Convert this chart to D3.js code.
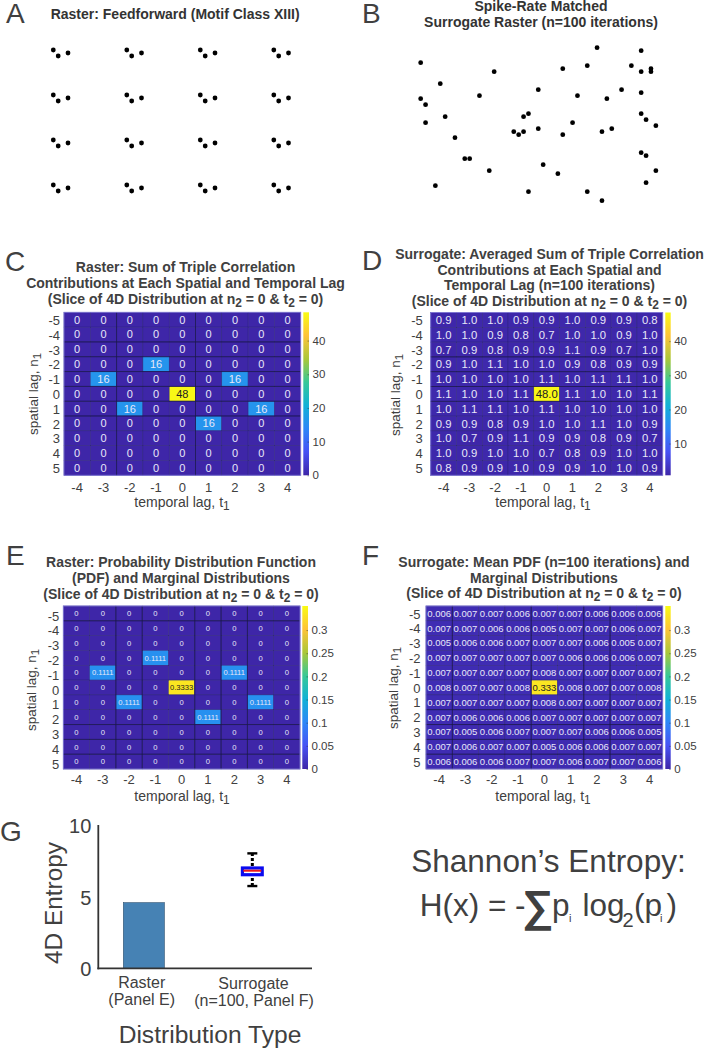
<!DOCTYPE html>
<html lang="en">
<head>
    <meta charset="UTF-8">
    <title>Triple correlation of a feedforward raster and its surrogate</title>
    <script src="https://d3js.org/d3.v7.min.js"></script>
    <style>
        body { margin: 0; background: #fff; }
        text { font-family: "Liberation Sans", Arial, sans-serif; fill: #404040; }
    </style>
</head>
<body>
    <svg width="704" height="1050" id="chart"></svg>
    <script>
        // Lags shared by all four heatmaps
        const temporalLags = [-4, -3, -2, -1, 0, 1, 2, 3, 4];
        const spatialLags = [-5, -4, -3, -2, -1, 0, 1, 2, 3, 4, 5];

        // Raster spikes, [time bin, neuron]
        const rasterSpikes = [
            [0, 0], [1, 2], [3, 1], [15, 0], [16, 2], [18, 1], [30, 0], [31, 2], [33, 1], [45, 0], [46, 2], [48, 1],
            [0, 15], [1, 17], [3, 16], [15, 15], [16, 17], [18, 16], [30, 15], [31, 17], [33, 16], [45, 15], [46, 17], [48, 16],
            [0, 30], [1, 32], [3, 31], [15, 30], [16, 32], [18, 31], [30, 30], [31, 32], [33, 31], [45, 30], [46, 32], [48, 31],
            [0, 45], [1, 47], [3, 46], [15, 45], [16, 47], [18, 46], [30, 45], [31, 47], [33, 46], [45, 45], [46, 47], [48, 46]
        ];
        const surrogateSpikes = [
            [36, 0], [45, 1], [0, 5], [34, 6], [43, 6], [29, 7], [47, 7], [15, 8], [45, 8], [47, 8],
            [4, 12], [24, 14], [41, 14], [45, 15], [12, 16], [32, 16], [0, 17], [38, 17], [1, 19],
            [22, 22], [45, 22], [5, 23], [21, 23], [46, 24], [1, 25], [31, 25], [48, 26], [24, 27], [39, 27],
            [19, 28], [21, 28], [37, 28], [20, 29], [29, 29], [7, 30], [45, 35], [46, 36], [9, 37], [10, 37],
            [25, 39], [14, 41], [48, 41], [28, 42], [46, 45], [3, 46], [22, 48], [34, 48], [37, 51]
        ];

        const rasterSums = [
            [0, 0, 0, 0, 0, 0, 0, 0, 0],
            [0, 0, 0, 0, 0, 0, 0, 0, 0],
            [0, 0, 0, 0, 0, 0, 0, 0, 0],
            [0, 0, 0, 16, 0, 0, 0, 0, 0],
            [0, 16, 0, 0, 0, 0, 16, 0, 0],
            [0, 0, 0, 0, 48, 0, 0, 0, 0],
            [0, 0, 16, 0, 0, 0, 0, 16, 0],
            [0, 0, 0, 0, 0, 16, 0, 0, 0],
            [0, 0, 0, 0, 0, 0, 0, 0, 0],
            [0, 0, 0, 0, 0, 0, 0, 0, 0],
            [0, 0, 0, 0, 0, 0, 0, 0, 0]
        ];
        const surrogateSums = [
            [0.9, 1.0, 1.0, 0.9, 0.9, 1.0, 0.9, 0.9, 0.8],
            [1.0, 1.0, 0.9, 0.8, 0.7, 1.0, 1.0, 0.9, 1.0],
            [0.7, 0.9, 0.8, 0.9, 0.9, 1.1, 0.9, 0.7, 1.0],
            [0.9, 1.0, 1.1, 1.0, 1.0, 0.9, 0.8, 0.9, 0.9],
            [1.0, 1.0, 1.0, 1.0, 1.1, 1.0, 1.1, 1.1, 1.0],
            [1.1, 1.0, 1.0, 1.1, 48.0, 1.1, 1.0, 1.0, 1.1],
            [1.0, 1.1, 1.1, 1.0, 1.1, 1.0, 1.0, 1.0, 1.0],
            [0.9, 0.9, 0.8, 0.9, 1.0, 1.0, 1.1, 1.0, 0.9],
            [1.0, 0.7, 0.9, 1.1, 0.9, 0.9, 0.8, 0.9, 0.7],
            [1.0, 0.9, 1.0, 1.0, 0.7, 0.8, 0.9, 1.0, 1.0],
            [0.8, 0.9, 0.9, 1.0, 0.9, 0.9, 1.0, 1.0, 0.9]
        ];
        const rasterPdf = [
            [0, 0, 0, 0, 0, 0, 0, 0, 0],
            [0, 0, 0, 0, 0, 0, 0, 0, 0],
            [0, 0, 0, 0, 0, 0, 0, 0, 0],
            [0, 0, 0, 0.1111, 0, 0, 0, 0, 0],
            [0, 0.1111, 0, 0, 0, 0, 0.1111, 0, 0],
            [0, 0, 0, 0, 0.3333, 0, 0, 0, 0],
            [0, 0, 0.1111, 0, 0, 0, 0, 0.1111, 0],
            [0, 0, 0, 0, 0, 0.1111, 0, 0, 0],
            [0, 0, 0, 0, 0, 0, 0, 0, 0],
            [0, 0, 0, 0, 0, 0, 0, 0, 0],
            [0, 0, 0, 0, 0, 0, 0, 0, 0]
        ];
        const surrogatePdf = [
            [0.006, 0.007, 0.007, 0.006, 0.007, 0.007, 0.006, 0.006, 0.006],
            [0.007, 0.007, 0.006, 0.006, 0.005, 0.007, 0.007, 0.006, 0.007],
            [0.005, 0.006, 0.006, 0.007, 0.007, 0.007, 0.006, 0.005, 0.007],
            [0.007, 0.007, 0.007, 0.007, 0.007, 0.006, 0.006, 0.006, 0.007],
            [0.007, 0.007, 0.007, 0.007, 0.008, 0.007, 0.007, 0.007, 0.007],
            [0.008, 0.007, 0.007, 0.008, 0.333, 0.008, 0.007, 0.007, 0.008],
            [0.007, 0.007, 0.007, 0.007, 0.008, 0.007, 0.007, 0.007, 0.007],
            [0.007, 0.006, 0.006, 0.006, 0.007, 0.007, 0.007, 0.007, 0.007],
            [0.007, 0.005, 0.006, 0.007, 0.007, 0.007, 0.006, 0.006, 0.005],
            [0.007, 0.006, 0.007, 0.007, 0.005, 0.006, 0.006, 0.007, 0.007],
            [0.006, 0.006, 0.006, 0.007, 0.007, 0.006, 0.007, 0.007, 0.006]
        ];

        // Entropy panel
        const entropyCategories = ["Raster", "Surrogate"];
        const rasterEntropy = 4.58;
        const surrogateEntropyBox = { low: 5.74, q1: 6.53, median: 6.81, q3: 7.0, high: 8.02 };
        const entropyTicks = [0, 5, 10];

        // MATLAB parula
        const parula = ["#3e26a8", "#4752f4", "#2d87f7", "#12b1d6", "#37c897", "#abc739", "#fec338", "#f9fb14"];

        const svg = d3.select("#chart");
        const grey = "#404040";

        // Writes "n_2" style strings as text with subscript tspans
        function richText(sel, str, subDy) {
            str.split(/_(\w)/).forEach((part, i) => {
                if (part === "") return;
                const isSub = i % 2 === 1;
                const afterSub = i % 2 === 0 && i > 0;
                sel.append("tspan")
                    .attr("dy", isSub ? subDy : afterSub ? -subDy : 0)
                    .attr("font-size", isSub ? "85%" : null)
                    .text(part);
            });
            return sel;
        }

        function title(lines, x, ys, size, color) {
            lines.forEach((line, i) => {
                const t = svg.append("text")
                    .attr("x", x)
                    .attr("y", ys[i])
                    .attr("text-anchor", "middle")
                    .attr("font-size", size)
                    .attr("font-weight", "bold")
                    .style("fill", color || grey);
                richText(t, line, 3);
            });
        }

        function letter(s, x, y) {
            svg.append("text").attr("x", x).attr("y", y)
                .attr("font-size", 28)
                .text(s);
        }

        function raster(spikes, xRange, yRange) {
            const x = d3.scaleLinear().domain(d3.extent(spikes, d => d[0])).range(xRange);
            const y = d3.scaleLinear().domain(d3.extent(spikes, d => d[1])).range(yRange);
            svg.append("g").selectAll("circle")
                .data(spikes)
                .enter().append("circle")
                .attr("cx", d => x(d[0]))
                .attr("cy", d => y(d[1]))
                .attr("r", 2.4)
                .style("fill", "#000");
        }

        let gradientCount = 0;

        function heatmap(o) {
            const x = d3.scaleBand().domain(temporalLags).range([o.left, o.right]);
            const y = d3.scaleBand().domain(spatialLags).range([o.top, o.bottom]);
            const color = d3.scaleLinear()
                .domain(parula.map((_, i) => o.domain[0] + (o.domain[1] - o.domain[0]) * i / (parula.length - 1)))
                .range(parula);

            const cells = [];
            o.values.forEach((row, r) => row.forEach((v, c) => {
                cells.push({ n: spatialLags[r], t: temporalLags[c], v: v });
            }));

            const g = svg.append("g");
            g.selectAll("rect")
                .data(cells)
                .enter().append("rect")
                .attr("x", d => x(d.t))
                .attr("y", d => y(d.n))
                .attr("width", x.bandwidth())
                .attr("height", y.bandwidth())
                .attr("fill", d => color(d.v))
                .attr("stroke", "#2a2178")
                .attr("stroke-width", 0.45);

            // a few cell lines come out darker in the figure
            o.darkV.forEach(t => {
                g.append("line")
                    .attr("x1", x(t)).attr("x2", x(t))
                    .attr("y1", o.top).attr("y2", o.bottom)
                    .attr("stroke", "#1c1650").attr("stroke-width", 0.8);
            });
            o.darkH.forEach(n => {
                g.append("line")
                    .attr("x1", o.left).attr("x2", o.right)
                    .attr("y1", y(n)).attr("y2", y(n))
                    .attr("stroke", "#1c1650").attr("stroke-width", 0.8);
            });

            // outer edge of the image is lighter than the cell lines
            g.append("rect")
                .attr("x", o.left).attr("y", o.top)
                .attr("width", o.right - o.left).attr("height", o.bottom - o.top)
                .attr("fill", "none")
                .attr("stroke", "#7f78d6")
                .attr("stroke-width", 0.9);

            g.selectAll("text")
                .data(cells)
                .enter().append("text")
                .attr("x", d => x(d.t) + x.bandwidth() / 2)
                .attr("y", d => y(d.n) + y.bandwidth() / 2)
                .attr("dy", "0.36em")
                .attr("text-anchor", "middle")
                .attr("font-size", o.cellSize)
                .style("fill", d => d.v > o.domain[1] * 0.6 ? "#222" : "#e9e8f8")
                .text(d => o.format(d.v));

            // axes
            const xAxis = svg.append("g")
                .attr("transform", `translate(0,${o.bottom})`)
                .call(d3.axisBottom(x).tickSize(0).tickPadding(o.xPad));
            const yAxis = svg.append("g")
                .attr("transform", `translate(${o.left},${o.yShift})`)
                .call(d3.axisLeft(y).tickSize(0).tickPadding(o.yPad));
            [xAxis, yAxis].forEach(a => {
                a.attr("font-family", null);
                a.select(".domain").remove();
                a.selectAll("text")
                    .attr("font-size", 13)
                    .style("fill", grey);
            });

            const xl = svg.append("text")
                .attr("x", o.xLabel[0]).attr("y", o.xLabel[1])
                .attr("text-anchor", "middle")
                .attr("font-size", 14);
            richText(xl, "temporal lag, t_1", 3);
            const yl = svg.append("text")
                .attr("transform", `translate(${o.yLabel[0]},${o.yLabel[1]}) rotate(-90)`)
                .attr("text-anchor", "middle")
                .attr("font-size", 13.5);
            richText(yl, "spatial lag, n_1", 3);

            // colorbar
            const id = "parula-" + (gradientCount++);
            const grad = svg.append("defs").append("linearGradient")
                .attr("id", id)
                .attr("x1", 0).attr("x2", 0).attr("y1", 1).attr("y2", 0);
            parula.forEach((c, i) => {
                grad.append("stop").attr("offset", i / (parula.length - 1)).attr("stop-color", c);
            });
            svg.append("rect")
                .attr("x", o.bar[0]).attr("y", o.top)
                .attr("width", o.bar[1] - o.bar[0]).attr("height", o.bottom - o.top)
                .attr("fill", `url(#${id})`);
            const barScale = d3.scaleLinear().domain(o.domain).range([o.bottom, o.top]);
            const barAxis = svg.append("g")
                .attr("transform", `translate(${o.bar[1]},0)`)
                .attr("font-family", null)
                .call(d3.axisRight(barScale).tickValues(o.barTicks).tickFormat(d => d).tickSize(-1.5));
            barAxis.select(".domain").remove();
            barAxis.selectAll("line").attr("stroke", "#333").attr("stroke-width", 0.5);
            barAxis.selectAll("text")
                .attr("font-size", 11.5)
                .attr("x", 3.5)
                .style("fill", grey);
        }

        // ---- A and B: rasters ----
        letter("A", 6, 22.5);
        svg.append("text").attr("x", 50.7).attr("y", 19)
            .attr("font-size", 14).attr("font-weight", "bold")
            .style("fill", "#333")
            .text("Raster: Feedforward (Motif Class XIII)");
        raster(rasterSpikes, [53.3, 288.5], [50, 191]);

        letter("B", 362, 22.5);
        title(["Spike-Rate Matched", "Surrogate Raster (n=100 iterations)"], 541, [10.7, 26.7], 14, "#333");
        raster(surrogateSpikes, [420.67, 655.87], [47.7, 200.7]);

        // ---- C to F: heatmaps ----
        letter("C", 5, 270.7);
        title(["Raster: Sum of Triple Correlation", "Contributions at Each Spatial and Temporal Lag", "(Slice of 4D Distribution at n_2 = 0 & t_2 = 0)"],
            185.5, [272, 288.3, 304], 14);
        heatmap({
            values: rasterSums, domain: [0, 48.4], barTicks: [0, 10, 20, 30, 40],
            left: 64, right: 300.7, top: 312.3, bottom: 475.3, bar: [303.3, 309],
            xPad: 7, yPad: 4, yShift: 1, cellSize: 11, format: d => d,
            xLabel: [182, 507], yLabel: [37.7, 394],
            darkV: [-2, 1], darkH: [-3, -2, -1, 0, 1, 2]
        });

        letter("D", 362, 270);
        title(["Surrogate: Averaged Sum of Triple Correlation", "Contributions at Each Spatial and", "Temporal Lag (n=100 iterations)", "(Slice of 4D Distribution at n_2 = 0 & t_2 = 0)"],
            549.5, [259, 274.7, 290, 305.7], 14);
        heatmap({
            values: surrogateSums, domain: [0.7, 48.4], barTicks: [10, 20, 30, 40],
            left: 430.7, right: 662.7, top: 312.5, bottom: 475.3, bar: [665.3, 670.7],
            xPad: 7, yPad: 8, yShift: 1, cellSize: 11.3, format: d => d.toFixed(1),
            xLabel: [543, 507], yLabel: [399.7, 395],
            darkV: [], darkH: [-2, -1, 0, 1]
        });

        letter("E", 6, 565);
        title(["Raster: Probability Distribution Function", "(PDF) and Marginal Distributions", "(Slice of 4D Distribution at n_2 = 0 & t_2 = 0)"],
            181, [567.3, 583.3, 599], 14);
        heatmap({
            values: rasterPdf, domain: [0, 0.352], barTicks: [0, 0.05, 0.1, 0.15, 0.2, 0.25, 0.3],
            left: 63.3, right: 300, top: 606, bottom: 769, bar: [302.3, 308],
            xPad: 6, yPad: 4, yShift: 3, cellSize: 7.6, format: d => d === 0 ? "0" : d.toFixed(4),
            xLabel: [182, 801], yLabel: [36, 690],
            darkV: [-2, -1, 1, 2, 3], darkH: [-4, 3, 4, 5]
        });

        letter("F", 362, 565);
        title(["Surrogate: Mean PDF (n=100 iterations) and", "Marginal Distributions", "(Slice of 4D Distribution at n_2 = 0 & t_2 = 0)"],
            544, [566.7, 582.7, 598.3], 14);
        heatmap({
            values: surrogatePdf, domain: [0, 0.352], barTicks: [0, 0.05, 0.1, 0.15, 0.2, 0.25, 0.3],
            left: 426, right: 662.7, top: 606, bottom: 769, bar: [665.3, 670.7],
            xPad: 6, yPad: 5.5, yShift: 1, cellSize: 9.5, format: d => d.toFixed(3),
            xLabel: [543, 801], yLabel: [398, 688],
            darkV: [-3, 0, 2, 3], darkH: [2, 3, 4, 5]
        });

        // ---- G: entropy bar and box ----
        letter("G", 0, 840.7);
        const gx = d3.scaleBand().domain(entropyCategories).range([98.3, 312])
            .paddingInner(0.622).paddingOuter(0.296).align(0.39);
        const gy = d3.scaleLinear().domain([0, 10]).range([968.3, 825]);

        svg.append("rect")
            .attr("x", gx("Raster"))
            .attr("y", gy(rasterEntropy))
            .attr("width", gx.bandwidth())
            .attr("height", gy(0) - gy(rasterEntropy))
            .attr("fill", "#4682b4")
            .attr("stroke", "#2c4f6e")
            .attr("stroke-width", 0.6);

        const boxX = gx("Surrogate") + gx.bandwidth() / 2;
        const box = surrogateEntropyBox;
        svg.append("line")
            .attr("x1", boxX).attr("x2", boxX)
            .attr("y1", gy(box.low)).attr("y2", gy(box.high))
            .attr("stroke", "#000").attr("stroke-width", 3).attr("stroke-dasharray", "3,2");
        [box.low, box.high].forEach(v => {
            svg.append("line")
                .attr("x1", boxX - 5).attr("x2", boxX + 5)
                .attr("y1", gy(v)).attr("y2", gy(v))
                .attr("stroke", "#000").attr("stroke-width", 2.4);
        });
        svg.append("rect")
            .attr("x", boxX - 9.9).attr("width", 19.8)
            .attr("y", gy(box.q3)).attr("height", gy(box.q1) - gy(box.q3))
            .attr("fill", "#fff")
            .attr("stroke", "#0a0af0").attr("stroke-width", 3.2);
        svg.append("line")
            .attr("x1", boxX - 9).attr("x2", boxX + 9)
            .attr("y1", gy(box.median)).attr("y2", gy(box.median))
            .attr("stroke", "#f01818").attr("stroke-width", 2);

        const gAxis = svg.append("g")
            .attr("transform", "translate(98.3,0)")
            .attr("font-family", null)
            .call(d3.axisLeft(gy).tickValues(entropyTicks).tickSize(0).tickPadding(7).tickFormat(d3.format("d")));
        gAxis.select(".domain").remove();
        gAxis.selectAll("text").attr("font-size", 20).attr("dy", "0.38em").style("fill", grey);

        svg.append("line").attr("x1", 98.3).attr("x2", 98.3).attr("y1", gy(10)).attr("y2", gy(0) + 1)
            .attr("stroke", "#333").attr("stroke-width", 1.8);
        svg.append("line").attr("x1", 97.4).attr("x2", 312).attr("y1", gy(0)).attr("y2", gy(0))
            .attr("stroke", "#333").attr("stroke-width", 1.8);

        [["Raster", 141.7, 987.7], ["(Panel E)", 141.7, 1005], ["Surrogate", 253.5, 989], ["(n=100, Panel F)", 254, 1005.5]].forEach(d => {
            svg.append("text").attr("x", d[1]).attr("y", d[2])
                .attr("text-anchor", "middle").attr("font-size", 16)
                .text(d[0]);
        });
        svg.append("text")
            .attr("transform", "translate(61.7,903) rotate(-90)")
            .attr("text-anchor", "middle").attr("font-size", 24.4)
            .text("4D Entropy");
        svg.append("text").attr("x", 210).attr("y", 1043)
            .attr("text-anchor", "middle").attr("font-size", 24.6)
            .text("Distribution Type");

        // ---- Shannon's entropy formula ----
        const fs = 31.5;
        function formula(s, x, y, size, weight) {
            svg.append("text").attr("x", x).attr("y", y)
                .attr("font-size", size).attr("font-weight", weight || null)
                .text(s);
        }
        formula("Shannon’s Entropy:", 411.3, 871.7, fs);
        formula("H(x) = -", 419.7, 916, fs);
        formula("∑", 522, 921, 44, "bold");
        formula("p", 552, 916, fs);
        formula("i", 569, 921.5, 11);
        formula("log", 582.5, 916, fs);
        formula("2", 622.5, 926.5, 20);
        formula("(p", 634, 916, fs);
        formula("i", 660, 921.5, 11);
        formula(")", 666.5, 916, fs);
    </script>
</body>
</html>
